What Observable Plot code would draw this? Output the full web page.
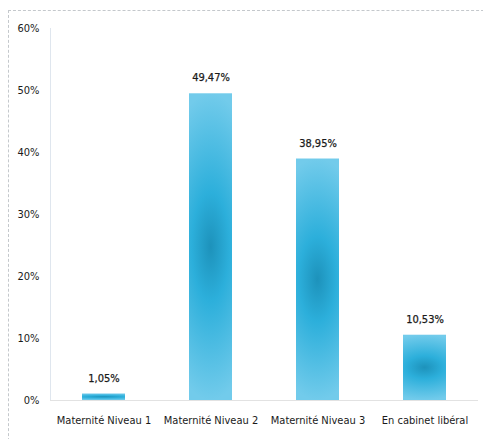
<!DOCTYPE html>
<html>
<head>
<meta charset="utf-8">
<script src="https://cdn.jsdelivr.net/npm/d3@7"></script>
<script src="https://cdn.jsdelivr.net/npm/@observablehq/plot@0.6"></script>
<style>
  html, body { margin: 0; padding: 0; background: #fff; }
  #wrap { position: relative; width: 483px; height: 439px; overflow: hidden; }
  #frame { position: absolute; left: 8px; top: 10px; width: 490px; height: 450px;
           border-top: 1px dashed #c4c8cc; border-left: 1px dashed #c4c8cc; pointer-events: none; }
</style>
</head>
<body>
<div id="wrap"><div id="frame"></div></div>
<script>
const categories = ["Maternité Niveau 1", "Maternité Niveau 2", "Maternité Niveau 3", "En cabinet libéral"];
const values = [1.05, 49.47, 38.95, 10.53];
const yTicks = [0, 10, 20, 30, 40, 50, 60];

const data = categories.map((c, i) => ({category: c, value: values[i]}));
const fmt = v => v.toFixed(2).replace(".", ",") + "%";
const font = "'DejaVu Sans Condensed', sans-serif";

const chart = Plot.plot({
  width: 483,
  height: 439,
  marginLeft: 50,
  marginRight: 5,
  marginTop: 28,
  marginBottom: 39,
  style: {fontFamily: font, fontSize: "11px", color: "#1a1a1a", background: "transparent"},
  x: {domain: categories, paddingInner: 0.6, paddingOuter: 0.3, label: null},
  y: {domain: [0, 60], label: null},
  marks: [
    Plot.frame({anchor: "left", stroke: "#dfe6ee"}),
    Plot.ruleY([0], {stroke: "#e2e2e2"}),
    Plot.barY(data, {x: "category", y: "value", fill: "url(#barGrad)"}),
    Plot.text(data, {x: "category", y: "value", text: d => fmt(d.value), dy: -16,
      fill: "#1a1a1a", fontSize: 11, stroke: "#1a1a1a", strokeWidth: 0.25}),
    Plot.axisY({ticks: yTicks, tickFormat: d => d + "%", tickSize: 0, tickPadding: 11,
      fontSize: 11, fill: "#1a1a1a", stroke: "#1a1a1a", strokeWidth: 0.25}),
    Plot.axisX({tickSize: 0, tickPadding: 16, fontSize: 11, fill: "#1a1a1a", stroke: "#1a1a1a", strokeWidth: 0.25})
  ]
});

const svg = d3.select(chart);
const defs = svg.insert("defs", ":first-child");
const grad = defs.append("radialGradient")
  .attr("id", "barGrad")
  .attr("cx", 0.5).attr("cy", 0.5).attr("r", 0.5)
  .attr("gradientTransform", "translate(0.5,0.5) scale(2.5,1) translate(-0.5,-0.5)");
grad.append("stop").attr("offset", "0%").attr("stop-color", "#1d92bb");
grad.append("stop").attr("offset", "35%").attr("stop-color", "#2cafdb");
grad.append("stop").attr("offset", "100%").attr("stop-color", "#72cbeb");

document.getElementById("wrap").prepend(chart);
</script>
</body>
</html>
